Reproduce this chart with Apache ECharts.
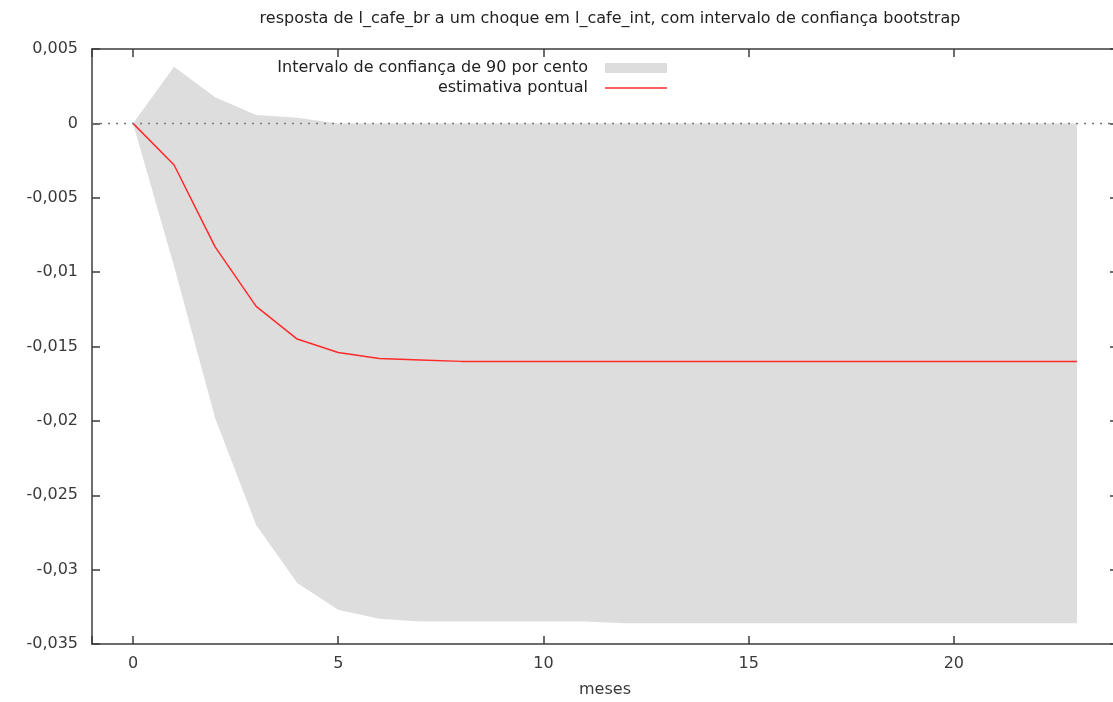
<!DOCTYPE html>
<html>
<head>
<meta charset="utf-8">
<script src="https://cdn.jsdelivr.net/npm/echarts@6/dist/echarts.min.js"></script>
<style>
html,body{margin:0;padding:0;background:#fff;}
#chart{width:1113px;height:702px;}
</style>
</head>
<body>
<div id="chart"></div>
<script>
// ---- data ----
var steps = [0,1,2,3,4,5,6,7,8,9,10,11,12,13,14,15,16,17,18,19,20,21,22,23];
var estimate = [0,-0.0028,-0.0083,-0.0123,-0.0145,-0.0154,-0.0158,-0.0159,-0.0160,-0.0160,-0.0160,-0.0160,-0.0160,-0.0160,-0.0160,-0.0160,-0.0160,-0.0160,-0.0160,-0.0160,-0.0160,-0.0160,-0.0160,-0.0160];
var upper = [0,0.0038,0.00175,0.00056,0.00038,0,0,0,0,0,0,0,0,0,0,0,0,0,0,0,0,0,0,0];
var lower = [0,-0.0096,-0.0198,-0.0270,-0.0309,-0.0327,-0.0333,-0.03348,-0.03348,-0.03348,-0.03348,-0.03348,-0.0336,-0.0336,-0.0336,-0.0336,-0.0336,-0.0336,-0.0336,-0.0336,-0.0336,-0.0336,-0.0336,-0.0336];
var yTicks = [0.005,0,-0.005,-0.01,-0.015,-0.02,-0.025,-0.03,-0.035];
var xTicks = [0,5,10,15,20];

var titleText = 'resposta de l_cafe_br a um choque em l_cafe_int, com intervalo de confiança bootstrap';
var bandName = 'Intervalo de confiança de 90 por cento';
var lineName = 'estimativa pontual';
var xName = 'meses';

// ---- build ----
var FONT = 'DejaVu Sans';
var FS = 16;
var bandData = steps.map(function(s,i){ return [s, lower[i], upper[i]]; });
var estPts = steps.map(function(s,i){ return [s, estimate[i]]; });

function yFmt(v){
  var r = Math.round(v*1000)/1000;
  for (var i=0;i<yTicks.length;i++){ if (Math.abs(yTicks[i]-v) < 1e-9) r = yTicks[i]; }
  if (r === 0) return '0';
  return String(r).replace('.', ',');
}
function xFmt(v){
  return xTicks.indexOf(v) >= 0 ? String(v) : '';
}

function renderBand(params, api){
  if (params.dataIndex !== 0) return;
  var pts = [];
  for (var i = 0; i < bandData.length; i++) {
    pts.push(api.coord([bandData[i][0], bandData[i][2]]));
  }
  for (var j = bandData.length - 1; j >= 0; j--) {
    pts.push(api.coord([bandData[j][0], bandData[j][1]]));
  }
  return {type:'polygon', shape:{points:pts}, style:{fill:'#dddddd', stroke:null}};
}

var axisLine = {show:true, onZero:false, lineStyle:{color:'#3c3c3c', width:1.5}};
var axisTick = {show:true, inside:true, length:8, lineStyle:{color:'#3c3c3c', width:1.5}};

var chart = echarts.init(document.getElementById('chart'), null, {renderer:'canvas'});
chart.setOption({
  animation:false,
  backgroundColor:'#ffffff',
  title:{
    text:titleText,
    left:605, top:6, textAlign:'center',
    textStyle:{fontFamily:FONT, fontSize:FS, fontWeight:'normal', color:'#222'}
  },
  legend:[
    {
      data:[{name:bandName, icon:'rect', itemStyle:{color:'#dddddd', borderWidth:0}}],
      right:446, top:60, orient:'vertical', align:'right', padding:0,
      itemWidth:62, itemHeight:10, selectedMode:false,
      textStyle:{fontFamily:FONT, fontSize:FS, color:'#222', padding:[0,12,0,0]}
    },
    {
      data:[{name:lineName, icon:'rect', itemStyle:{color:'#ff2a2a', borderWidth:0}}],
      right:446, top:80, orient:'vertical', align:'right', padding:0,
      itemWidth:62, itemHeight:1.5, selectedMode:false,
      textStyle:{fontFamily:FONT, fontSize:FS, color:'#222', padding:[0,12,0,0]}
    }
  ],
  grid:{left:92, right:-5, top:49, bottom:58, containLabel:false, outerBoundsMode:'none'},
  xAxis:[
    {
      type:'value', position:'bottom', min:-1, max:24,
      axisLine:axisLine, axisTick:axisTick, splitLine:{show:false},
      axisLabel:{show:true, margin:12, formatter:xFmt, fontFamily:FONT, fontSize:FS, color:'#3a3a3a'},
      name:xName, nameLocation:'middle', nameGap:38,
      nameTextStyle:{fontFamily:FONT, fontSize:FS, color:'#3a3a3a'}
    },
    {
      type:'value', position:'top', min:-1, max:24,
      axisLine:axisLine, axisTick:axisTick, splitLine:{show:false},
      axisLabel:{show:false}
    }
  ],
  yAxis:[
    {
      type:'value', position:'left', min:-0.035, max:0.005, interval:0.005,
      axisLine:axisLine, axisTick:axisTick, splitLine:{show:false},
      axisLabel:{show:true, margin:14, formatter:yFmt, fontFamily:FONT, fontSize:FS, color:'#3a3a3a'}
    },
    {
      type:'value', position:'right', min:-0.035, max:0.005, interval:0.005,
      axisLine:axisLine, axisTick:axisTick, splitLine:{show:false},
      axisLabel:{show:false}
    }
  ],
  series:[
    {
      name:bandName, type:'custom', coordinateSystem:'cartesian2d',
      xAxisIndex:0, yAxisIndex:0,
      data:bandData, encode:{x:0, y:[1,2]},
      renderItem:renderBand, itemStyle:{color:'#dddddd'},
      silent:true, clip:true, z:1
    },
    {
      name:'zero', type:'line', data:[], symbol:'none', silent:true, z:3,
      markLine:{
        silent:true, symbol:['none','none'], label:{show:false},
        lineStyle:{color:'#777777', type:[2,6], width:1.3},
        data:[{yAxis:0}]
      }
    },
    {
      name:lineName, type:'line', data:estPts, symbol:'none',
      itemStyle:{color:'#ff2a2a'},
      lineStyle:{color:'#ff2a2a', width:1.5}, z:4
    }
  ]
});
</script>
</body>
</html>
